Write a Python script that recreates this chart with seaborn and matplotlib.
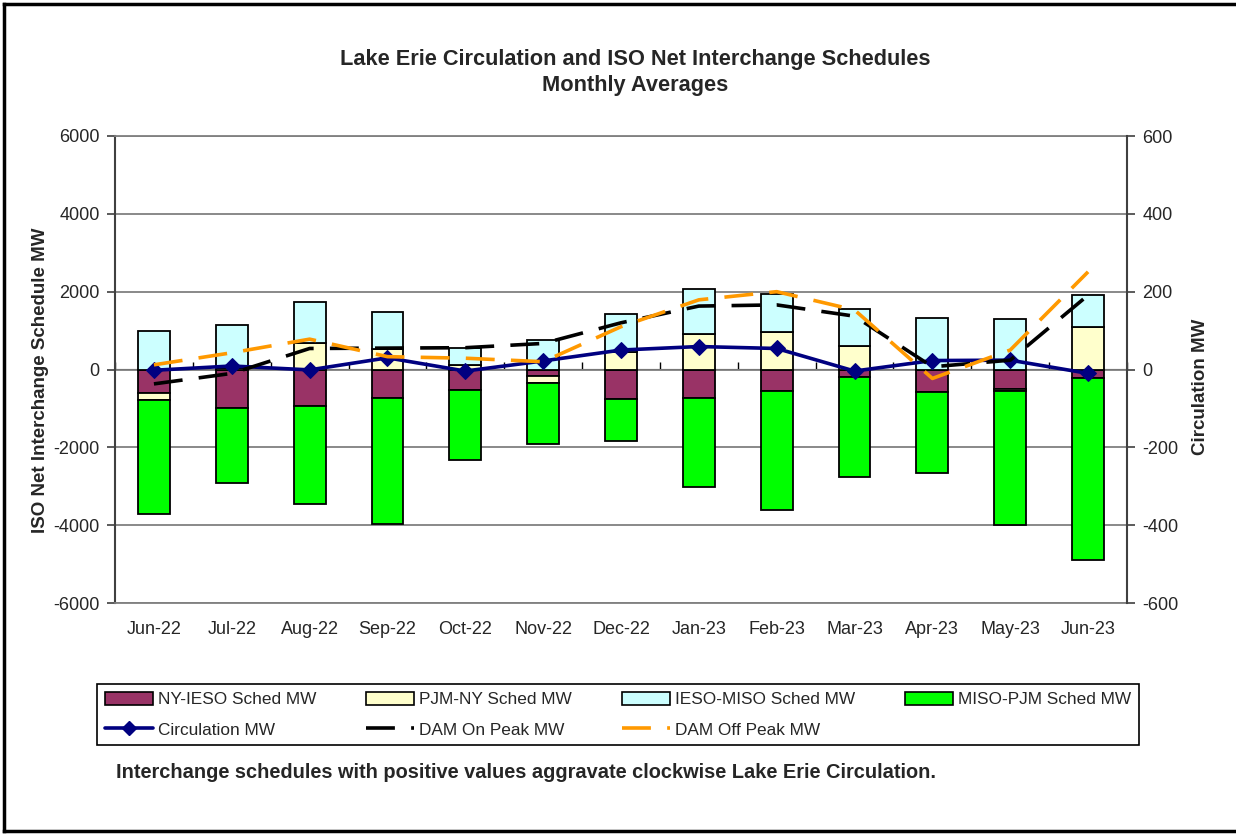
import numpy as np
import seaborn as sns
import matplotlib.pyplot as plt
from matplotlib.lines import Line2D
from matplotlib.patches import Patch

# monthly averages
months = ["Jun-22", "Jul-22", "Aug-22", "Sep-22", "Oct-22", "Nov-22", "Dec-22",
          "Jan-23", "Feb-23", "Mar-23", "Apr-23", "May-23", "Jun-23"]

# stacked schedules, MW (left axis)
ny_ieso = [-610, -1000, -940, -725, -527, -167, -750, -741, -552, -201, -570, -510, -226]
pjm_ny = [-170, 30, 670, 520, 110, -170, 460, 910, 970, 600, 0, -40, 1100]
ieso_miso = [1000, 1110, 1060, 960, 450, 750, 970, 1150, 960, 950, 1330, 1306, 820]
miso_pjm = [-2935, -1910, -2510, -3250, -1800, -1585, -1080, -2290, -3060, -2570, -2080, -3450, -4670]

# lines, MW (right axis)
circulation = [-2, 9, -1, 30, -4, 22, 50, 59, 54, -4, 23, 24, -10]
dam_on_peak = [-37, -10, 54, 55, 56, 67, 120, 163, 166, 137, 7, 24, 191]
dam_off_peak = [12, 43, 78, 33, 29, 20, 110, 179, 200, 153, -23, 50, 251]

bar_series = [
    ("NY-IESO Sched MW", ny_ieso, "#993366"),
    ("PJM-NY Sched MW", pjm_ny, "#FFFFCC"),
    ("IESO-MISO Sched MW", ieso_miso, "#CCFFFF"),
    ("MISO-PJM Sched MW", miso_pjm, "#00FF00"),
]


def stack_bottoms(series):
    # excel style: positives stack up from 0, negatives stack down from 0
    pos = np.zeros(len(months))
    neg = np.zeros(len(months))
    out = []
    for vals in series:
        v = np.asarray(vals, dtype=float)
        out.append(np.where(v >= 0, pos, neg))
        pos = pos + np.where(v >= 0, v, 0)
        neg = neg + np.where(v < 0, v, 0)
    return out


sns.set_style("white")
plt.rcParams["font.family"] = ["Liberation Sans", "DejaVu Sans"]
plt.rcParams["axes.unicode_minus"] = False

W, H = 1236, 834
fig = plt.figure(figsize=(W / 100, H / 100), dpi=100)
ax = fig.add_axes([115 / W, 1 - 603 / H, (1127 - 115) / W, (603 - 136) / H])

grey = "#808080"
dark = "#404040"

bottoms = stack_bottoms([s[1] for s in bar_series])
for (label, vals, color), bottom in zip(bar_series, bottoms):
    sns.barplot(x=months, y=vals, bottom=bottom, color=color, saturation=1,
                width=0.41, edgecolor="black", linewidth=1.3, errorbar=None,
                ax=ax, zorder=2)

ax.set_ylim(-6000, 6000)
ax.set_yticks(np.arange(-6000, 6001, 2000))
ax.set_xlim(-0.5, len(months) - 0.5)
ax.set_axisbelow(True)
ax.yaxis.grid(True, color=grey, lw=1.3)
ax.tick_params(axis="y", which="both", left=True, length=6, width=1.2,
               color=dark, labelsize=13, pad=5)
ax.tick_params(axis="x", length=0, labelsize=13, pad=13)
for side in ["top", "bottom"]:
    ax.spines[side].set_color(grey)
    ax.spines[side].set_linewidth(1.3)
ax.spines["left"].set_color(dark)
ax.spines["left"].set_linewidth(1.5)
ax.spines["right"].set_visible(False)
ax.set_ylabel("ISO Net Interchange Schedule MW", fontsize=13.5, fontweight="bold")
ax.yaxis.set_label_coords(-0.065, 0.477)

# category axis crossing at zero with tick marks between months
zero_axis = ax.secondary_xaxis(0.5)
edges = np.arange(len(months) + 1) - 0.5
zero_axis.set_xticks(edges, labels=[""] * len(edges))
zero_axis.tick_params(axis="x", direction="out", length=5, width=1, color="black")
zero_axis.spines["bottom"].set_color("black")
zero_axis.spines["bottom"].set_linewidth(1.3)

ax2 = ax.twinx()
x = np.arange(len(months))
sns.lineplot(x=x, y=circulation, ax=ax2, color="#000080", lw=2.6, marker="D",
             markersize=8.5, markeredgecolor="#000080", zorder=3)
sns.lineplot(x=x, y=dam_on_peak, ax=ax2, color="black", lw=2.6,
             linestyle=(0, (8, 4.5)), zorder=3)
sns.lineplot(x=x, y=dam_off_peak, ax=ax2, color="#FF9900", lw=2.6,
             linestyle=(0, (8, 4.5)), zorder=3)
ax2.set_ylim(-600, 600)
ax2.set_yticks(np.arange(-600, 601, 200))
ax2.set_xlim(-0.5, len(months) - 0.5)
ax2.tick_params(axis="y", right=True, length=6, width=1.2, color=dark,
                labelsize=13, pad=5)
for side in ["top", "bottom", "left"]:
    ax2.spines[side].set_visible(False)
ax2.spines["right"].set_color(dark)
ax2.spines["right"].set_linewidth(1.5)
ax2.set_ylabel("Circulation MW", fontsize=13.5, fontweight="bold")
ax2.yaxis.set_label_coords(1.064, 0.463)

# titles and notes
fig.text(635 / W, 1 - 59 / H, "Lake Erie Circulation and ISO Net Interchange Schedules",
         ha="center", va="center", fontsize=15.7, fontweight="bold")
fig.text(635 / W, 1 - 85 / H, "Monthly Averages",
         ha="center", va="center", fontsize=15.7, fontweight="bold")
fig.text(116 / W, 1 - 773 / H,
         "Interchange schedules with positive values aggravate clockwise Lake Erie Circulation.",
         ha="left", va="center", fontsize=14.4, fontweight="bold")

# legend: row-major layout, matplotlib fills columns first
patches = [Patch(facecolor=c, edgecolor="black", lw=1.2, label=l) for l, _, c in bar_series]
lines = [
    Line2D([], [], color="#000080", lw=2.6, marker="D", markersize=7, label="Circulation MW"),
    Line2D([], [], color="black", lw=2.6, linestyle=(0, (8, 4.5)), label="DAM On Peak MW"),
    Line2D([], [], color="#FF9900", lw=2.6, linestyle=(0, (8, 4.5)), label="DAM Off Peak MW"),
]
order = [patches[0], lines[0], patches[1], lines[1], patches[2], lines[2], patches[3]]
leg = fig.legend(handles=order, ncol=4, loc="upper left", mode="expand",
                 bbox_to_anchor=(97 / W, 1 - 684 / H, 1042 / W, 0),
                 fontsize=12.4, frameon=True, fancybox=False, framealpha=1,
                 edgecolor="black", handlelength=2.8, handleheight=0.8,
                 handletextpad=0.3, labelspacing=0.85, borderpad=0.45,
                 borderaxespad=0)
leg.get_frame().set_linewidth(1.2)

# outer chart border: left, top and bottom only, the right edge is off the picture
bx0, by0, by1 = 4 / W, 3 / H, 1 - 4 / H
for xs, ys in [([bx0, bx0], [by0, by1]), ([bx0, 1.0], [by1, by1]), ([bx0, 1.0], [by0, by0])]:
    fig.add_artist(Line2D(xs, ys, transform=fig.transFigure, color="black", lw=2.5,
                          solid_capstyle="projecting"))

fig.savefig("out.png", dpi=100)
